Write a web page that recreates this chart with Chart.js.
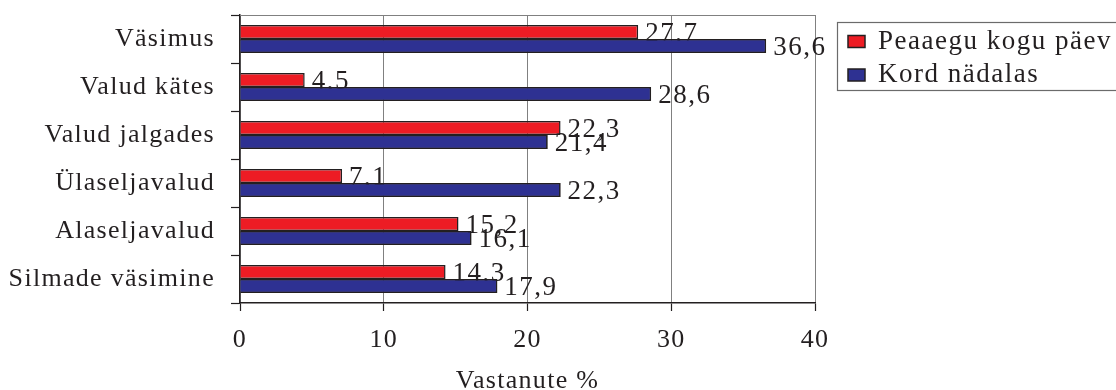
<!DOCTYPE html>
<html>
<head>
<meta charset="utf-8">
<script src="https://cdn.jsdelivr.net/npm/chart.js@4"></script>
<style>
  html, body { margin: 0; padding: 0; background: #fff; overflow: hidden; }
  #wrap { width: 1116px; height: 390px; position: relative; }
</style>
</head>
<body>
<div id="wrap"><canvas id="chart"></canvas></div>
<script>
// Complaint categories (top to bottom) and share of respondents, %
const categories = ['Väsimus', 'Valud kätes', 'Valud jalgades', 'Ülaseljavalud', 'Alaseljavalud', 'Silmade väsimine'];
const seriesNames = ['Peaaegu kogu päev', 'Kord nädalas'];
const dailyValues = [27.7, 4.5, 22.3, 7.1, 15.2, 14.3];
const weeklyValues = [36.6, 28.6, 21.4, 22.3, 16.1, 17.9];
const xTickValues = [0, 10, 20, 30, 40];
const axisTitle = 'Vastanute %';

const INK = '#231f20';
const GRID = '#808080';
const SERIF = "'Liberation Serif', 'Times New Roman', serif";
const SPACING = '1.3px';

const fmt = v => v.toFixed(1).replace('.', ',');

// Widen the serif text slightly on every draw pass
const textSpacing = {
  id: 'textSpacing',
  beforeLayout(chart) { chart.ctx.letterSpacing = SPACING; },
  beforeDraw(chart) { chart.ctx.letterSpacing = SPACING; }
};

// Top edge of the plot frame
const frameTop = {
  id: 'frameTop',
  beforeDatasetsDraw(chart) {
    const { ctx, chartArea: a } = chart;
    ctx.save();
    ctx.strokeStyle = GRID;
    ctx.lineWidth = 1;
    ctx.beginPath();
    ctx.moveTo(a.left, a.top + 0.5);
    ctx.lineTo(a.right, a.top + 0.5);
    ctx.stroke();
    ctx.restore();
  }
};

// Value labels at the end of each bar; the second series' bars are drawn over the first series' labels
const valueLabels = {
  id: 'valueLabels',
  afterDatasetsDraw(chart) {
    const ctx = chart.ctx;
    const drawLabels = (i) => {
      const meta = chart.getDatasetMeta(i);
      const vals = chart.data.datasets[i].data;
      ctx.save();
      ctx.letterSpacing = '1.5px';
      ctx.font = `27px ${SERIF}`;
      ctx.fillStyle = INK;
      ctx.textAlign = 'left';
      ctx.textBaseline = 'middle';
      meta.data.forEach((el, j) => {
        ctx.fillText(fmt(vals[j]), el.x + 7, el.y + 1.5);
      });
      ctx.restore();
    };
    drawLabels(0);
    chart.getDatasetMeta(1).data.forEach(el => el.draw(ctx));
    drawLabels(1);
  }
};

// Boxed legend to the right of the plot
const boxedLegend = {
  id: 'boxedLegend',
  afterDraw(chart) {
    const ctx = chart.ctx;
    const x0 = 837, y0 = 22, h = 68;
    ctx.save();
    ctx.letterSpacing = '1.5px';
    ctx.strokeStyle = '#6b6b6b';
    ctx.lineWidth = 1.2;
    ctx.strokeRect(x0 + 0.5, y0 + 0.5, 400, h);
    const rows = [41.5, 75];
    chart.data.datasets.forEach((ds, i) => {
      const cy = rows[i];
      ctx.fillStyle = ds.backgroundColor;
      ctx.fillRect(848, cy - 6, 17, 12);
      ctx.strokeStyle = INK;
      ctx.lineWidth = 1.5;
      ctx.strokeRect(848, cy - 6, 17, 12);
      ctx.font = `27px ${SERIF}`;
      ctx.fillStyle = INK;
      ctx.textAlign = 'left';
      ctx.textBaseline = 'middle';
      ctx.fillText(ds.label, 878, cy);
    });
    ctx.restore();
  }
};

new Chart(document.getElementById('chart'), {
  type: 'bar',
  data: {
    labels: categories,
    datasets: [
      { label: seriesNames[0], data: dailyValues, backgroundColor: '#ED1C24', borderColor: INK, borderWidth: 1.5 },
      { label: seriesNames[1], data: weeklyValues, backgroundColor: '#2E3192', borderColor: INK, borderWidth: 1.5 }
    ]
  },
  options: {
    indexAxis: 'y',
    responsive: true,
    maintainAspectRatio: false,
    animation: false,
    devicePixelRatio: 1,
    layout: { padding: { top: 15, right: 301, bottom: 0, left: 0 } },
    datasets: { bar: { barPercentage: 1, categoryPercentage: 0.58 } },
    plugins: {
      legend: { display: false },
      tooltip: { enabled: false }
    },
    scales: {
      x: {
        type: 'linear',
        min: xTickValues[0],
        max: xTickValues[xTickValues.length - 1],
        afterBuildTicks(scale) { scale.ticks = xTickValues.map(v => ({ value: v })); },
        afterFit(scale) { scale.height = 87; },
        ticks: {
          padding: 14,
          color: INK,
          font: { family: SERIF, size: 26 },
          callback: v => String(v)
        },
        grid: { color: GRID, lineWidth: 1, tickLength: 8, tickColor: INK, tickWidth: 1.2 },
        border: { color: INK, width: 1.5 },
        title: {
          display: true,
          text: axisTitle,
          color: INK,
          font: { family: SERIF, size: 26, lineHeight: 0.7 },
          padding: { top: 0, bottom: 0 }
        }
      },
      y: {
        afterFit(scale) {
          scale.width = 240;
          scale.paddingTop = 0;
          scale.paddingBottom = 0;
        },
        ticks: {
          padding: 16,
          color: INK,
          font: { family: SERIF, size: 26 }
        },
        grid: { offset: true, drawOnChartArea: false, drawTicks: true, tickLength: 9, tickColor: INK, tickWidth: 1.2 },
        border: { color: INK, width: 1.5 }
      }
    }
  },
  plugins: [textSpacing, frameTop, valueLabels, boxedLegend]
});
</script>
</body>
</html>
